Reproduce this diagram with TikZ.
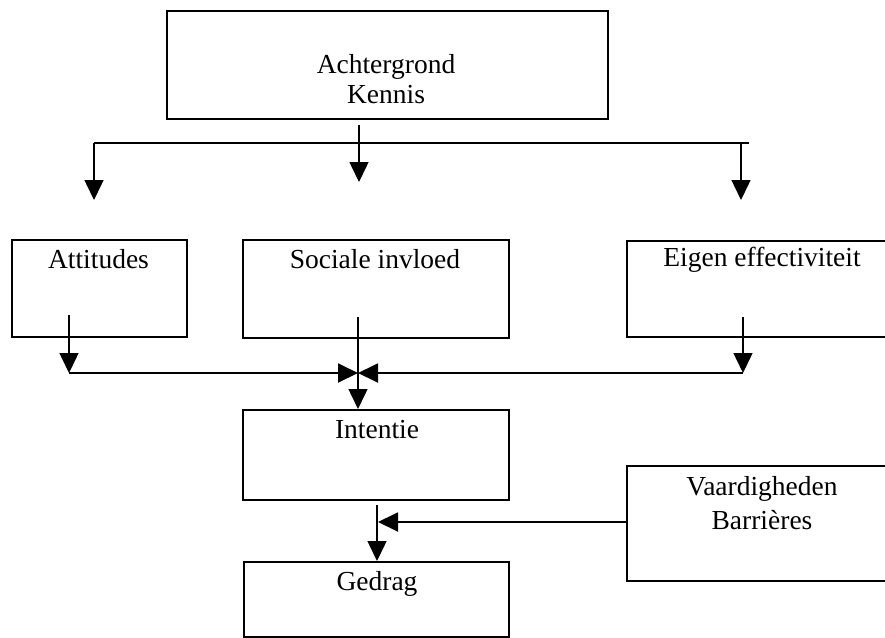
\documentclass[tikz,border=0pt]{standalone}
\usepackage{fontspec}
\setmainfont{Liberation Serif}
\usetikzlibrary{arrows.meta}
\begin{document}
\begin{tikzpicture}[x=1pt,y=-1pt,
  box/.style={draw, line width=1.8pt, rectangle, inner sep=0pt, anchor=north west},
  lbl/.style={font=\fontsize{27.5}{30}\selectfont, anchor=base, inner sep=0pt},
  conn/.style={line width=1.9pt},
  arr/.style={line width=1.5pt, -{Triangle[length=20pt,width=19pt]}},
  harr/.style={line width=1.9pt, -{Triangle[length=20pt,width=19pt]}}]
\useasboundingbox (0,0) rectangle (885,637);
\clip (0,0) rectangle (885,637);
% boxes
\node[box, minimum width=441pt, minimum height=108pt] (top) at (166,10) {};
\node[box, minimum width=175pt, minimum height=97pt] (att) at (11,239) {};
\node[box, minimum width=266pt, minimum height=98pt] (soc) at (242,239) {};
\node[box, minimum width=274pt, minimum height=96pt] (eig) at (626,240) {};
\node[box, minimum width=266pt, minimum height=90pt] (int) at (242,409) {};
\node[box, minimum width=274pt, minimum height=115pt] (vaa) at (626,465) {};
\node[box, minimum width=265pt, minimum height=75pt] (ged) at (243,561) {};
% texts
\node[lbl] (tA) at (386,73) {Achtergrond};
\node[lbl] (tK) at (386,103) {Kennis};
\node[lbl] (tAtt) at (98.5,268) {Attitudes};
\node[lbl] (tSoc) at (375,268) {Sociale invloed};
\node[lbl] (tEig) at (762,266) {Eigen effectiviteit};
\node[lbl] (tInt) at (377,438) {Intentie};
\node[lbl] (tV) at (762,495) {Vaardigheden};
\node[lbl] (tB) at (762,529) {Barrières};
\node[lbl] (tG) at (377,590) {Gedrag};
% coordinates
\coordinate (tm) at (359,182);
\coordinate (hl) at (94,143);
\coordinate (hr) at (749,143);
\coordinate (al) at (94,200);
\coordinate (ar) at (741,200);
\coordinate (as) at (69,315);
\coordinate (ae) at (69,373);
\coordinate (es) at (743,317);
\coordinate (ee) at (743,373);
\coordinate (ss) at (358,317);
\coordinate (jn) at (358,373);
\coordinate (is) at (377,505);
\coordinate (vt) at (378,522);
% top branching
\draw[arr] ([yshift=-5pt]top.south -| tm) -- (tm);
\draw[conn] (hl) -- (hr);
\draw[arr] (hl) -- (al);
\draw[arr] (hr -| ar) -- (ar);
% second row to intention
\draw[arr] (as) -- (ae);
\draw[arr] (es) -- (ee);
\draw[harr] (ae) -- (jn);
\draw[harr] (ee) -- (jn);
\draw[arr] (ss) -- (int.north -| ss);
% intention to behaviour
\draw[arr] (is) -- (ged.north -| is);
\draw[harr] (vaa.west |- vt) -- (vt);
\end{tikzpicture}
\end{document}
